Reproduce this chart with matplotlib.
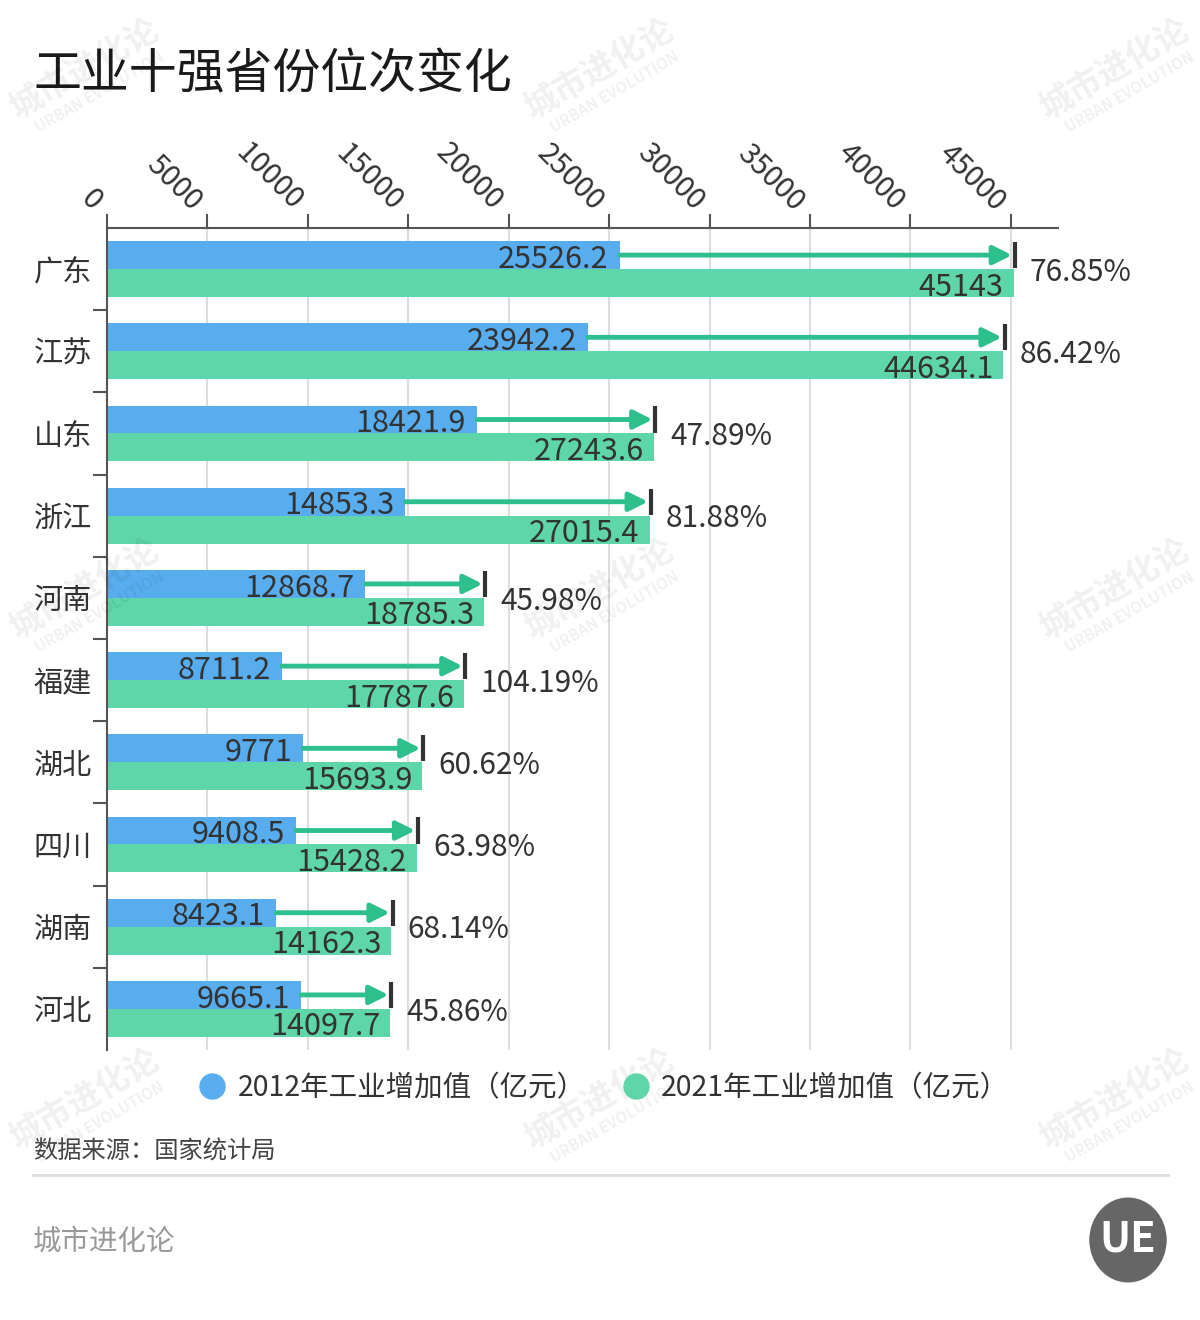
import numpy as np
import matplotlib
matplotlib.use("Agg")
import matplotlib.pyplot as plt
from matplotlib.lines import Line2D
from matplotlib.patches import Circle

plt.rcParams['font.family'] = ['Noto Sans CJK SC', 'DejaVu Sans']

# 数据
provinces = ['广东', '江苏', '山东', '浙江', '河南', '福建', '湖北', '四川', '湖南', '河北']
v2012 = [25526.2, 23942.2, 18421.9, 14853.3, 12868.7, 8711.2, 9771, 9408.5, 8423.1, 9665.1]
v2021 = [45143, 44634.1, 27243.6, 27015.4, 18785.3, 17787.6, 15693.9, 15428.2, 14162.3, 14097.7]
v2012_labels = ['25526.2', '23942.2', '18421.9', '14853.3', '12868.7', '8711.2', '9771', '9408.5', '8423.1', '9665.1']
v2021_labels = ['45143', '44634.1', '27243.6', '27015.4', '18785.3', '17787.6', '15693.9', '15428.2', '14162.3', '14097.7']
growth_labels = ['76.85%', '86.42%', '47.89%', '81.88%', '45.98%', '104.19%', '60.62%', '63.98%', '68.14%', '45.86%']
xticks = [0, 5000, 10000, 15000, 20000, 25000, 30000, 35000, 40000, 45000]
legend_labels = ['2012年工业增加值（亿元）', '2021年工业增加值（亿元）']

blue = '#58ADEF'
green = '#5ED6A9'
arrow_c = '#2DC08D'
dark = '#333333'

fig = plt.figure(figsize=(12, 13.2), dpi=100)
ax = fig.add_axes([107 / 1200, 1 - 1050 / 1320, (1058 - 107) / 1200, (1050 - 228) / 1320])

y = np.arange(len(provinces))
h = 0.34
ax.barh(y - h / 2, v2012, height=h, color=blue, zorder=2)
ax.barh(y + h / 2, v2021, height=h, color=green, zorder=2)

for i in range(len(provinces)):
    ax.text(v2012[i] - 550, y[i] - h / 2 + 0.05, v2012_labels[i], ha='right', va='center',
            fontsize=22, color=dark, zorder=4)
    ax.text(v2021[i] - 500, y[i] + h / 2 + 0.05, v2021_labels[i], ha='right', va='center',
            fontsize=22, color=dark, zorder=4)
    ax.annotate('', xy=(v2021[i] - 80, y[i] - h / 2), xytext=(v2012[i], y[i] - h / 2),
                arrowprops=dict(arrowstyle='-|>', color=arrow_c, lw=3.5, mutation_scale=28,
                                shrinkA=0, shrinkB=0), zorder=3)
    ax.plot([v2021[i] + 60, v2021[i] + 60], [y[i] - h + 0.01, y[i] - 0.01], color=dark, lw=3,
            solid_capstyle='butt', zorder=4)
    ax.text(v2021[i] + 800, y[i] + 0.04, growth_labels[i], ha='left', va='center',
            fontsize=21.5, color=dark, zorder=4)

ax.set_xlim(0, 47350)
ax.set_ylim(len(provinces) - 0.5, -0.5)

ax.xaxis.tick_top()
ax.set_xticks(xticks)
ax.set_xticklabels([str(t) for t in xticks], rotation=-45, ha='right', va='bottom',
                   fontsize=21, color=dark)
ax.tick_params(axis='x', length=10, width=1.5, color='#555555', pad=-2)
ax.grid(axis='x', color='#dddddd', lw=1.5, zorder=0)

ax.set_yticks(y)
ax.set_yticklabels(provinces, fontsize=21, color=dark)
ax.tick_params(axis='y', which='major', length=0, pad=11)
ax.set_yticks(np.arange(0.5, len(provinces) - 1, 1), minor=True)
ax.tick_params(axis='y', which='minor', length=10, width=1.5, color='#555555')

for s in ['right', 'bottom']:
    ax.spines[s].set_visible(False)
for s in ['top', 'left']:
    ax.spines[s].set_color('#555555')
    ax.spines[s].set_linewidth(1.5)

# 标题
fig.text(33 / 1200, 1 - 75 / 1320, '工业十强省份位次变化', fontsize=34.5, color='#1a1a1a',
         ha='left', va='center')

# 图例
handles = [Line2D([0], [0], marker='o', color='none', markerfacecolor=blue, markeredgecolor=blue, markersize=18),
           Line2D([0], [0], marker='o', color='none', markerfacecolor=green, markeredgecolor=green, markersize=18)]
fig.legend(handles, legend_labels, loc='center', bbox_to_anchor=(0.497, 1 - 1088 / 1320), ncol=2,
           frameon=False, fontsize=20.5, handletextpad=-0.1, columnspacing=0.75, labelcolor=dark)

# 来源
fig.text(33 / 1200, 1 - 1152 / 1320, '数据来源：国家统计局', fontsize=17.5, color='#444444', ha='left', va='center')
fig.add_artist(Line2D([33 / 1200, 1168 / 1200], [1 - 1175 / 1320, 1 - 1175 / 1320], color='#dddddd', lw=2))
fig.text(33 / 1200, 1 - 1242 / 1320, '城市进化论', fontsize=20.5, color='#999999', ha='left', va='center')

# 标志
logo = Circle((1128 / 1200, 1 - 1240 / 1320), 38 / 1200, transform=fig.transFigure, color='#666666')
fig.add_artist(logo)
fig.text(1128 / 1200, 1 - 1240 / 1320, 'UE', fontsize=30, color='white', fontweight='bold',
         ha='center', va='center')

# 水印
for wx, wy in [(85, 70), (600, 70), (1115, 70), (85, 590), (600, 590), (1115, 590),
               (85, 1100), (600, 1100), (1115, 1100)]:
    fig.text(wx / 1200, 1 - wy / 1320, '城市进化论', fontsize=24, color='#000000', alpha=0.06,
             rotation=30, ha='center', va='center', fontweight='bold')
    fig.text((wx + 15) / 1200, 1 - (wy + 22) / 1320, 'URBAN EVOLUTION', fontsize=11, color='#000000',
             alpha=0.06, rotation=30, ha='center', va='center', fontweight='bold')

fig.savefig('out.png', dpi=100, facecolor='white')
